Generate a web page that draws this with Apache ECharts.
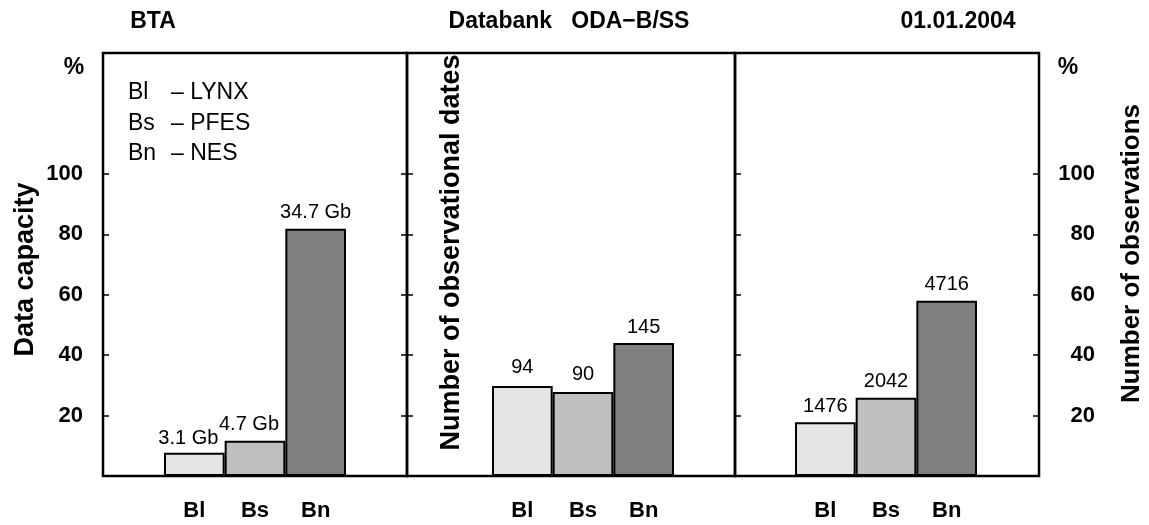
<!DOCTYPE html>
<html>
<head>
<meta charset="utf-8">
<script src="https://cdn.jsdelivr.net/npm/echarts@6/dist/echarts.min.js"></script>
<style>
html,body{margin:0;padding:0;background:#fff;}
#chart{width:1149px;height:525px;}
</style>
</head>
<body>
<div id="chart"></div>
<script>
// ---- data ----
const categories = ['Bl', 'Bs', 'Bn'];
const capacityPct = [7.7, 11.7, 81.8];
const capacityLabels = ['3.1 Gb', '4.7 Gb', '34.7 Gb'];
const datesPct = [29.8, 27.8, 44.0];
const datesLabels = ['94', '90', '145'];
const obsPct = [17.8, 25.9, 58.0];
const obsLabels = ['1476', '2042', '4716'];
const yTicks = [20, 40, 60, 80, 100];
const panelTitles = ['BTA', 'Databank   ODA\u2212B/SS', '01.01.2004'];
const legendCodes = ['Bl', 'Bs', 'Bn'];
const legendNames = ['LYNX', 'PFES', 'NES'];
const axisNames = ['Data capacity', 'Number of observational dates', 'Number of observations'];

// ---- styles / layout ----
const barColors = ['#e5e5e5', '#bfbfbf', '#7f7f7f'];
const FONT = 'Liberation Sans, Arial, Helvetica, sans-serif';
const TOP = 53, H = 423, YMAX = 140;
const frames = [{left: 103, width: 304}, {left: 407, width: 328}, {left: 735, width: 304}];
const barGrids = [{left: 164, width: 182}, {left: 492, width: 182}, {left: 795, width: 182}];
const labelShift = [[[-6, 2], [-6, 0], [0, 0]], [[0, -2], [0, -2], [0, 0]], [[0, 0], [0, 0], [0, 0]]];

const grids = [];
frames.forEach(f => grids.push({left: f.left, top: TOP, width: f.width, height: H, show: true,
  borderColor: '#000', borderWidth: 2.5, backgroundColor: 'transparent', containLabel: false}));
barGrids.forEach(b => grids.push({left: b.left, top: TOP, width: b.width, height: H, containLabel: false}));

const tickStyle = {show: true, inside: true, length: 6, lineStyle: {color: '#000', width: 1.5}, customValues: yTicks};
const noLabel = {show: false};
const labelStyle = {show: true, customValues: yTicks, color: '#000', fontFamily: FONT, fontWeight: 'bold', fontSize: 22, margin: 20};

const xAxes = [], yAxes = [];
for (let i = 0; i < 3; i++) {
  xAxes.push({gridIndex: i, type: 'value', show: false, min: 0, max: 1});
}
for (let i = 0; i < 3; i++) {
  xAxes.push({gridIndex: 3 + i, type: 'category', data: categories,
    axisLine: {show: false}, axisTick: {show: false},
    axisLabel: {color: '#000', fontFamily: FONT, fontWeight: 'bold', fontSize: 22, margin: 24}});
}
// panel 1 left axis
yAxes.push({gridIndex: 0, type: 'value', position: 'left', min: 0, max: YMAX, splitLine: {show: false},
  axisLine: {show: false}, axisTick: tickStyle, axisLabel: labelStyle,
  name: axisNames[0], nameLocation: 'middle', nameGap: 64, nameRotate: 90,
  nameTextStyle: {color: '#000', fontFamily: FONT, fontWeight: 'bold', fontSize: 27, padding: [0, 10, 0, 0]}});
// panel 2 left axis (divider)
yAxes.push({gridIndex: 1, type: 'value', position: 'left', min: 0, max: YMAX, splitLine: {show: false},
  axisLine: {show: false}, axisTick: tickStyle, axisLabel: noLabel,
  name: axisNames[1], nameLocation: 'middle', nameGap: -58, nameRotate: 90,
  nameTextStyle: {color: '#000', fontFamily: FONT, fontWeight: 'bold', fontSize: 27, padding: [0, 0, 0, 24]}});
// panel 1 right ticks at divider
yAxes.push({gridIndex: 0, type: 'value', position: 'right', min: 0, max: YMAX, splitLine: {show: false},
  axisLine: {show: false}, axisTick: tickStyle, axisLabel: noLabel});
// panel 3 left axis (divider)
yAxes.push({gridIndex: 2, type: 'value', position: 'left', min: 0, max: YMAX, splitLine: {show: false},
  axisLine: {show: false}, axisTick: tickStyle, axisLabel: noLabel});
// panel 3 right axis
yAxes.push({gridIndex: 2, type: 'value', position: 'right', min: 0, max: YMAX, splitLine: {show: false},
  axisLine: {show: false}, axisTick: tickStyle,
  axisLabel: Object.assign({}, labelStyle, {align: 'right', margin: 56}),
  name: axisNames[2], nameLocation: 'middle', nameGap: 80, nameRotate: 90,
  nameTextStyle: {color: '#000', fontFamily: FONT, fontWeight: 'bold', fontSize: 26, padding: [0, 0, 0, 22]}});
// hidden y axes for bar grids
for (let i = 0; i < 3; i++) {
  yAxes.push({gridIndex: 3 + i, type: 'value', show: false, min: 0, max: YMAX});
}

function barSeries(idx, values, labels) {
  return {
    type: 'bar', xAxisIndex: 3 + idx, yAxisIndex: 5 + idx, barWidth: '100%', barCategoryGap: 0,
    data: values.map((v, k) => ({value: v, itemStyle: {color: barColors[k]},
      label: {offset: labelShift[idx][k]}})),
    itemStyle: {borderColor: '#000', borderWidth: 2},
    label: {show: true, position: 'top', distance: 6, color: '#000', fontFamily: FONT, fontSize: 20,
      formatter: p => labels[p.dataIndex]},
    silent: true, animation: false
  };
}

const graphic = [];
const titleX = [153, 569, 958];
panelTitles.forEach((t, i) => graphic.push({type: 'text', x: titleX[i], y: 22,
  style: {text: t, fill: '#000', font: 'bold 23px ' + FONT, textAlign: 'center', textVerticalAlign: 'middle'}}));
['%', '%'].forEach((t, i) => graphic.push({type: 'text', x: [74, 1068][i], y: 68,
  style: {text: t, fill: '#000', font: 'bold 23px ' + FONT, textAlign: 'center', textVerticalAlign: 'middle'}}));
legendCodes.forEach((c, i) => {
  const y = 93 + i * 30.5;
  graphic.push({type: 'text', x: 128, y: y, style: {text: c, fill: '#000', font: '23px ' + FONT, textVerticalAlign: 'middle'}});
  graphic.push({type: 'text', x: 171, y: y, style: {text: '\u2013 ' + legendNames[i], fill: '#000', font: '23px ' + FONT, textVerticalAlign: 'middle'}});
});

const chart = echarts.init(document.getElementById('chart'), null, {renderer: 'canvas'});
chart.setOption({
  animation: false,
  backgroundColor: '#fff',
  grid: grids,
  xAxis: xAxes,
  yAxis: yAxes,
  series: [barSeries(0, capacityPct, capacityLabels), barSeries(1, datesPct, datesLabels), barSeries(2, obsPct, obsLabels)],
  graphic: graphic
});
</script>
</body>
</html>
